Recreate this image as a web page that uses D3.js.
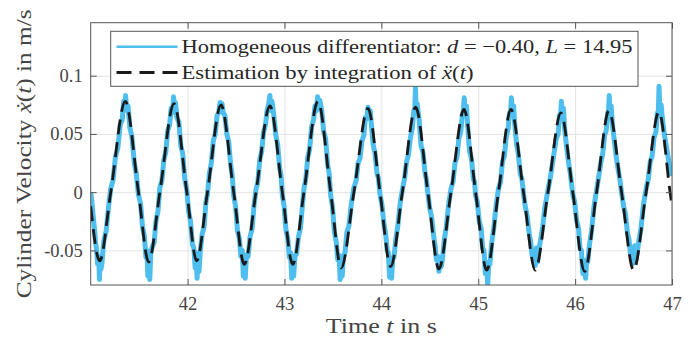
<!DOCTYPE html>
<html>
<head>
<meta charset="utf-8">
<script src="https://cdn.jsdelivr.net/npm/d3@7"></script>
<style>
  body { margin: 0; background: #fff; }
  svg { display: block; font-family: "Liberation Serif", "DejaVu Serif", serif; }
  svg text { font-family: "Liberation Serif", "DejaVu Serif", serif; }
</style>
</head>
<body>
<script>
const w = 700;
const h = 338;

// axis limits and ticks
const xDomain = [41, 47];
const yDomain = [-0.0797, 0.1455];
const xTicks = [42, 43, 44, 45, 46, 47];
const yTicks = [-0.05, 0, 0.05, 0.1];
const yTickLabels = ["-0.05", "0", "0.05", "0.1"];

// estimation by integration of acceleration (dashed): extrema and zero crossings
const dashT = [41.000, 41.093, 41.207, 41.357, 41.493, 41.598, 41.714, 41.860, 41.992, 42.094,
  42.205, 42.345, 42.476, 42.585, 42.706, 42.850, 42.978, 43.085, 43.201, 43.346,
  43.477, 43.586, 43.717, 43.862, 43.986, 44.096, 44.217, 44.354, 44.480, 44.594,
  44.719, 44.853, 44.973, 45.087, 45.209, 45.338, 45.467, 45.588, 45.720, 45.853,
  45.976, 46.098, 46.222, 46.349, 46.479, 46.604, 46.733, 46.865, 46.980, 47.000];
const dashV = [-0.012, -0.059, 0, 0.078, 0, -0.060, 0, 0.076, 0, -0.059,
  0, 0.075, 0, -0.062, 0, 0.074, 0, -0.062, 0, 0.078,
  0, -0.065, 0, 0.072, 0, -0.064, 0, 0.073, 0, -0.066,
  0, 0.071, 0, -0.067, 0, 0.071, 0, -0.067, 0, 0.068,
  0, -0.068, 0, 0.070, 0, -0.067, 0, 0.069, 0, -0.012];

// homogeneous differentiator output (blue, noisy)
const blueT = [
  41.000, 41.012, 41.025, 41.037, 41.050, 41.062, 41.072, 41.082, 41.090, 41.098, 41.106,
  41.115, 41.135, 41.160, 41.185, 41.207, 41.230, 41.255, 41.280, 41.305, 41.325, 41.340, 41.350, 41.360, 41.372,
  41.385, 41.405, 41.425, 41.450, 41.470, 41.493, 41.515, 41.535, 41.555, 41.570, 41.580, 41.590, 41.600, 41.610, 41.620,
  41.635, 41.655, 41.675, 41.695, 41.714, 41.735, 41.755, 41.775, 41.795, 41.815, 41.830, 41.845, 41.855, 41.865, 41.875,
  41.890, 41.910, 41.930, 41.950, 41.970, 41.992, 42.010, 42.030, 42.050, 42.065, 42.078, 42.088, 42.098, 42.108, 42.118,
  42.130, 42.150, 42.170, 42.190, 42.205, 42.225, 42.245, 42.265, 42.285, 42.305, 42.320, 42.335, 42.345, 42.355, 42.368,
  42.385, 42.405, 42.425, 42.445, 42.460, 42.476, 42.495, 42.515, 42.535, 42.550, 42.565, 42.575, 42.585, 42.595, 42.608,
  42.625, 42.645, 42.665, 42.685, 42.706, 42.725, 42.745, 42.765, 42.785, 42.805, 42.820, 42.835, 42.850, 42.860, 42.872,
  42.890, 42.910, 42.930, 42.950, 42.965, 42.978, 42.995, 43.015, 43.035, 43.050, 43.063, 43.075, 43.085, 43.095, 43.108,
  43.125, 43.145, 43.165, 43.185, 43.201, 43.220, 43.240, 43.260, 43.280, 43.300, 43.315, 43.330, 43.342, 43.352, 43.365,
  43.385, 43.405, 43.425, 43.445, 43.460, 43.477, 43.495, 43.515, 43.535, 43.550, 43.563, 43.575, 43.586, 43.596, 43.608,
  43.625, 43.645, 43.665, 43.690, 43.717, 43.740, 43.760, 43.780, 43.800, 43.820, 43.835, 43.850, 43.862, 43.872, 43.885,
  43.895, 43.915, 43.935, 43.955, 43.970, 43.986, 44.005, 44.025, 44.045, 44.060, 44.072, 44.085, 44.096, 44.106, 44.118,
  44.130, 44.150, 44.170, 44.195, 44.217, 44.240, 44.260, 44.280, 44.300, 44.320, 44.335, 44.345, 44.352, 44.358, 44.370,
  44.390, 44.410, 44.430, 44.450, 44.465, 44.480, 44.500, 44.520, 44.540, 44.555, 44.568, 44.580, 44.594, 44.605, 44.618,
  44.630, 44.650, 44.670, 44.695, 44.719, 44.740, 44.760, 44.780, 44.800, 44.820, 44.835, 44.845, 44.855, 44.865, 44.878,
  44.890, 44.910, 44.930, 44.950, 44.962, 44.973, 44.990, 45.010, 45.030, 45.045, 45.060, 45.073, 45.087, 45.097, 45.110,
  45.120, 45.140, 45.160, 45.185, 45.209, 45.230, 45.250, 45.270, 45.290, 45.310, 45.322, 45.332, 45.342, 45.352, 45.365,
  45.375, 45.395, 45.415, 45.435, 45.450, 45.467, 45.485, 45.505, 45.525, 45.540, 45.555, 45.570, 45.588, 45.600, 45.612,
  45.625, 45.645, 45.665, 45.690, 45.720, 45.745, 45.765, 45.785, 45.805, 45.825, 45.838, 45.848, 45.858, 45.868, 45.880,
  45.890, 45.910, 45.930, 45.950, 45.962, 45.976, 45.995, 46.015, 46.035, 46.050, 46.065, 46.080, 46.098, 46.108, 46.120,
  46.130, 46.150, 46.170, 46.195, 46.222, 46.245, 46.265, 46.285, 46.305, 46.322, 46.335, 46.345, 46.352, 46.360, 46.372,
  46.385, 46.405, 46.425, 46.445, 46.460, 46.479, 46.500, 46.520, 46.540, 46.555, 46.570, 46.585, 46.604, 46.615, 46.628,
  46.640, 46.660, 46.680, 46.705, 46.733, 46.755, 46.775, 46.795, 46.815, 46.835, 46.848, 46.858, 46.866, 46.875, 46.888,
  46.900, 46.920, 46.940, 46.960, 46.975, 46.990, 47.000];
const blueV = [
  0.000, -0.008, -0.020, -0.030, -0.043, -0.050, -0.062, -0.055, -0.075, -0.060, -0.066,
  -0.062, -0.042, -0.033, -0.012, 0.003, 0.010, 0.030, 0.038, 0.058, 0.062, 0.078, 0.070, 0.083, 0.072,
  0.074, 0.055, 0.048, 0.025, 0.016, -0.002, -0.010, -0.030, -0.038, -0.056, -0.050, -0.072, -0.058, -0.075, -0.052,
  -0.047, -0.043, -0.024, -0.016, 0.004, 0.010, 0.028, 0.034, 0.053, 0.058, 0.072, 0.068, 0.082, 0.070, 0.077,
  0.064, 0.060, 0.040, 0.033, 0.012, 0.002, -0.016, -0.025, -0.045, -0.048, -0.065, -0.052, -0.074, -0.060, -0.068,
  -0.052, -0.036, -0.030, -0.008, -0.002, 0.016, 0.025, 0.044, 0.050, 0.066, 0.068, 0.077, 0.073, 0.076, 0.068,
  0.066, 0.050, 0.043, 0.023, 0.015, -0.003, -0.012, -0.033, -0.040, -0.055, -0.050, -0.072, -0.058, -0.074, -0.054,
  -0.055, -0.038, -0.032, -0.012, 0.002, 0.009, 0.028, 0.035, 0.052, 0.058, 0.070, 0.075, 0.083, 0.070, 0.078,
  0.066, 0.049, 0.041, 0.021, 0.014, -0.003, -0.011, -0.032, -0.040, -0.056, -0.052, -0.074, -0.060, -0.072, -0.055,
  -0.053, -0.038, -0.031, -0.012, 0.003, 0.011, 0.030, 0.037, 0.056, 0.062, 0.074, 0.070, 0.082, 0.072, 0.079,
  0.070, 0.052, 0.046, 0.024, 0.017, -0.003, -0.012, -0.034, -0.043, -0.058, -0.054, -0.075, -0.062, -0.072, -0.055,
  -0.052, -0.034, -0.029, -0.010, 0.004, 0.010, 0.025, 0.029, 0.044, 0.049, 0.064, 0.063, 0.073, 0.068, 0.070,
  0.060, 0.041, 0.033, 0.016, 0.012, -0.002, -0.010, -0.026, -0.036, -0.050, -0.052, -0.073, -0.058, -0.074, -0.056,
  -0.056, -0.040, -0.029, -0.009, 0.002, 0.012, 0.026, 0.032, 0.047, 0.055, 0.070, 0.072, 0.090, 0.074, 0.076,
  0.062, 0.040, 0.034, 0.017, 0.011, -0.001, -0.014, -0.022, -0.038, -0.046, -0.058, -0.055, -0.068, -0.056, -0.064,
  -0.058, -0.041, -0.030, -0.010, 0.003, 0.009, 0.025, 0.030, 0.046, 0.052, 0.066, 0.068, 0.081, 0.070, 0.074,
  0.058, 0.035, 0.029, 0.011, 0.009, -0.003, -0.008, -0.025, -0.031, -0.048, -0.050, -0.070, -0.062, -0.080, -0.060,
  -0.062, -0.043, -0.031, -0.011, 0.003, 0.009, 0.026, 0.031, 0.048, 0.055, 0.068, 0.066, 0.081, 0.070, 0.074,
  0.060, 0.042, 0.032, 0.015, 0.012, -0.001, -0.012, -0.020, -0.035, -0.042, -0.054, -0.050, -0.063, -0.048, -0.060,
  -0.050, -0.040, -0.030, -0.012, 0.002, 0.013, 0.024, 0.035, 0.046, 0.050, 0.066, 0.062, 0.078, 0.066, 0.072,
  0.056, 0.040, 0.027, 0.016, 0.008, -0.002, -0.008, -0.024, -0.031, -0.048, -0.050, -0.070, -0.060, -0.074, -0.058,
  -0.060, -0.044, -0.033, -0.012, 0.002, 0.014, 0.025, 0.033, 0.049, 0.053, 0.068, 0.070, 0.083, 0.069, 0.074,
  0.058, 0.044, 0.030, 0.019, 0.012, 0.000, -0.012, -0.019, -0.035, -0.040, -0.052, -0.048, -0.061, -0.046, -0.058,
  -0.052, -0.041, -0.031, -0.011, 0.003, 0.011, 0.026, 0.031, 0.047, 0.052, 0.068, 0.066, 0.091, 0.070, 0.075,
  0.064, 0.050, 0.040, 0.030, 0.022, 0.017, 0.014];

const blue = blueT.map((t, i) => [t, blueV[i]]);
const dashed = dashT.map((t, i) => [t, dashV[i]]);

const box = { left: 90.7, right: 672, top: 22.7, bottom: 285 };
const serif = '"Liberation Serif", "DejaVu Serif", serif';

const xScale = d3.scaleLinear().domain(xDomain).range([box.left, box.right]);
const yScale = d3.scaleLinear().domain(yDomain).range([box.bottom, box.top]);

const svg = d3.select("body").append("svg").attr("width", w).attr("height", h);

svg.append("defs").append("clipPath").attr("id", "plot-clip")
  .append("rect")
  .attr("x", box.left).attr("y", box.top)
  .attr("width", box.right - box.left).attr("height", box.bottom - box.top);

// grid
svg.append("g")
  .attr("transform", "translate(0," + box.bottom + ")")
  .call(d3.axisBottom(xScale).tickValues(xTicks).tickSize(-(box.bottom - box.top)).tickFormat(""))
  .call((g) => g.select(".domain").remove())
  .selectAll("line").attr("stroke", "#e3e3e3").attr("stroke-width", 1);
svg.append("g")
  .attr("transform", "translate(" + box.left + ",0)")
  .call(d3.axisLeft(yScale).tickValues(yTicks).tickSize(-(box.right - box.left)).tickFormat(""))
  .call((g) => g.select(".domain").remove())
  .selectAll("line").attr("stroke", "#e3e3e3").attr("stroke-width", 1);

// data
const plot = svg.append("g").attr("clip-path", "url(#plot-clip)");

plot.append("path")
  .datum(blue)
  .attr("d", d3.line().x((d) => xScale(d[0])).y((d) => yScale(d[1])))
  .attr("fill", "none")
  .attr("stroke", "#4DBEEE")
  .attr("stroke-width", 5)
  .attr("stroke-linejoin", "round");

plot.append("path")
  .datum(dashed)
  .attr("d", d3.line().x((d) => xScale(d[0])).y((d) => yScale(d[1])).curve(d3.curveMonotoneX))
  .attr("fill", "none")
  .attr("stroke", "#1a1a1a")
  .attr("stroke-width", 2.8)
  .attr("stroke-dasharray", "15,8");

// axes with inward ticks on all sides
const tickLen = 6;
const axisColor = "#555";
const xAxis = svg.append("g")
  .attr("transform", "translate(0," + box.bottom + ")")
  .call(d3.axisBottom(xScale).tickValues(xTicks).tickSize(-tickLen).tickPadding(12).tickFormat(d3.format("d")));
const xAxisTop = svg.append("g")
  .attr("transform", "translate(0," + box.top + ")")
  .call(d3.axisTop(xScale).tickValues(xTicks).tickSize(-tickLen).tickFormat(""));
const yAxis = svg.append("g")
  .attr("transform", "translate(" + box.left + ",0)")
  .call(d3.axisLeft(yScale).tickValues(yTicks).tickSize(-tickLen).tickPadding(8)
    .tickFormat((d, i) => yTickLabels[i]));
const yAxisRight = svg.append("g")
  .attr("transform", "translate(" + box.right + ",0)")
  .call(d3.axisRight(yScale).tickValues(yTicks).tickSize(-tickLen).tickFormat(""));

[xAxis, xAxisTop, yAxis, yAxisRight].forEach((g) => {
  g.attr("font-family", null);
  g.select(".domain").remove();
  g.selectAll("line").attr("stroke", axisColor).attr("stroke-width", 1);
  g.selectAll("text")
    .style("font-family", serif)
    .style("font-size", "18.5px")
    .attr("fill", "#444");
});

svg.append("rect")
  .attr("x", box.left).attr("y", box.top)
  .attr("width", box.right - box.left).attr("height", box.bottom - box.top)
  .attr("fill", "none").attr("stroke", axisColor).attr("stroke-width", 1);

// axis labels
const xLabel = svg.append("text")
  .attr("x", (box.left + box.right) / 2)
  .attr("y", 333)
  .attr("text-anchor", "middle")
  .style("font-size", "21.5px")
  .attr("fill", "#444")
  .attr("textLength", 111).attr("lengthAdjust", "spacingAndGlyphs");
xLabel.append("tspan").text("Time ");
xLabel.append("tspan").attr("font-style", "italic").text("t");
xLabel.append("tspan").text(" in s");

const yLabel = svg.append("text")
  .attr("transform", "translate(31," + (box.top + box.bottom) / 2 + ") rotate(-90)")
  .attr("text-anchor", "middle")
  .style("font-size", "21.5px")
  .attr("fill", "#444")
  .attr("textLength", 289).attr("lengthAdjust", "spacingAndGlyphs");
yLabel.append("tspan").text("Cylinder Velocity ");
yLabel.append("tspan").attr("font-style", "italic").text("\u1E8B");
yLabel.append("tspan").text("(");
yLabel.append("tspan").attr("font-style", "italic").text("t");
yLabel.append("tspan").text(") in m/s");

// legend
const legend = svg.append("g");
legend.append("rect")
  .attr("x", 110.7).attr("y", 31.3)
  .attr("width", 638 - 110.7).attr("height", 55)
  .attr("fill", "#fff").attr("stroke", axisColor).attr("stroke-width", 1);

const legendRows = [
  { y: 46.8, color: "#4DBEEE", width: 2.6, dash: null },
  { y: 72.5, color: "#1a1a1a", width: 2.8, dash: "15,8" }
];
legendRows.forEach((r) => {
  legend.append("line")
    .attr("x1", 116.5).attr("x2", 177.5)
    .attr("y1", r.y).attr("y2", r.y)
    .attr("stroke", r.color)
    .attr("stroke-width", r.width)
    .attr("stroke-dasharray", r.dash);
});

const t1 = legend.append("text")
  .attr("x", 181.5).attr("y", legendRows[0].y + 6.5)
  .style("font-size", "19.5px").attr("fill", "#262626")
  .attr("textLength", 451).attr("lengthAdjust", "spacingAndGlyphs");
t1.append("tspan").text("Homogeneous differentiator: ");
t1.append("tspan").attr("font-style", "italic").text("d");
t1.append("tspan").text(" = \u22120.40,  ");
t1.append("tspan").attr("font-style", "italic").text("L");
t1.append("tspan").text(" = 14.95");

const t2 = legend.append("text")
  .attr("x", 181.5).attr("y", legendRows[1].y + 6.5)
  .style("font-size", "19.5px").attr("fill", "#262626")
  .attr("textLength", 292).attr("lengthAdjust", "spacingAndGlyphs");
t2.append("tspan").text("Estimation by integration of ");
t2.append("tspan").attr("font-style", "italic").text("\u1E8D");
t2.append("tspan").text("(");
t2.append("tspan").attr("font-style", "italic").text("t");
t2.append("tspan").text(")");
</script>
</body>
</html>
